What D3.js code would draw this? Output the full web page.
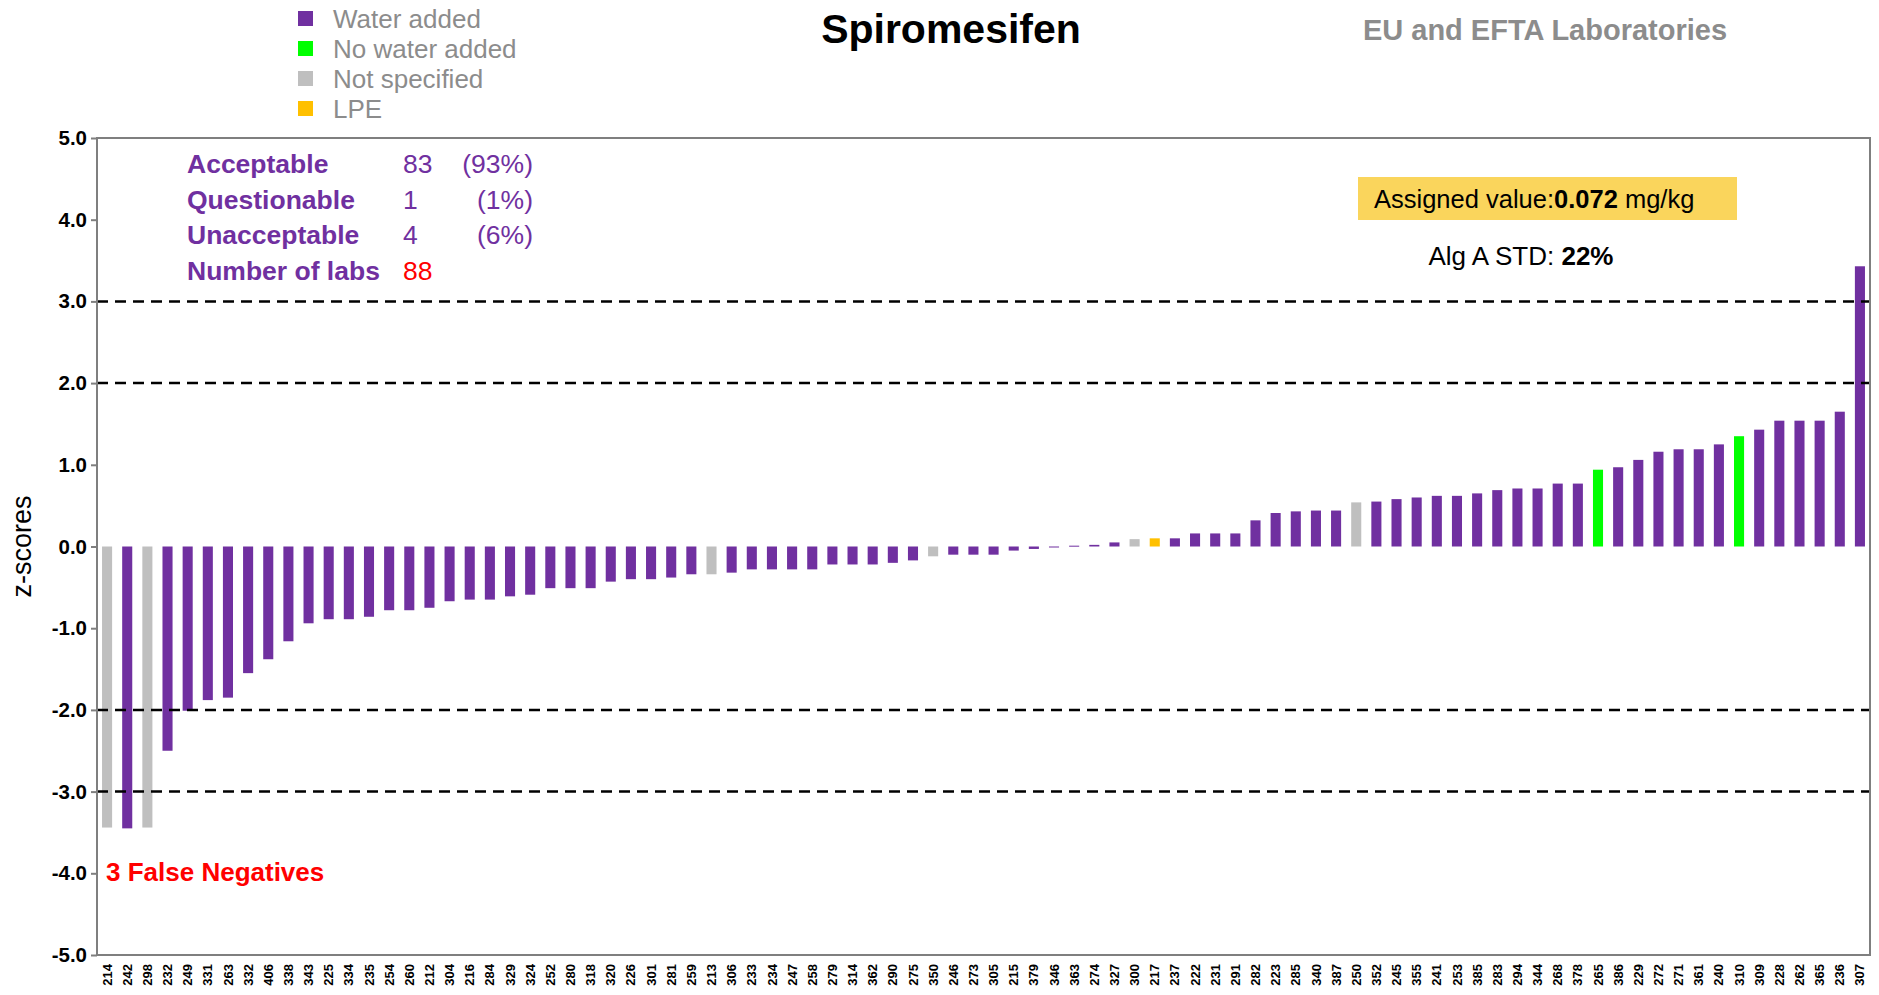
<!doctype html>
<html lang="en">
<head>
  <meta charset="utf-8" />
  <title>Spiromesifen z-scores</title>
  <script src="https://d3js.org/d3.v7.min.js"></script>
  <style>
    body { margin: 0; background: #fff; }
    text { font-family: "Liberation Sans", Arial, sans-serif; }
  </style>
</head>
<body>
<script type="text/javascript">

  // lab codes in plotted order
  var labs = ["214","242","298","232","249","331","263","332","406","338",
    "343","225","334","235","254","260","212","304","216","284",
    "329","324","252","280","318","320","226","301","281","259",
    "213","306","233","234","247","258","279","314","362","290",
    "275","350","246","273","305","215","379","346","363","274",
    "327","300","217","237","222","231","291","282","223","285",
    "340","387","250","352","245","355","241","253","385","283",
    "294","344","268","378","265","386","229","272","271","361",
    "240","310","309","228","262","365","236","307"];

  // z-scores
  var zScores = [-3.44,-3.45,-3.44,-2.50,-2.01,-1.88,-1.85,-1.55,-1.38,-1.16,
    -0.94,-0.89,-0.89,-0.86,-0.78,-0.78,-0.75,-0.67,-0.65,-0.65,
    -0.61,-0.59,-0.51,-0.51,-0.51,-0.43,-0.40,-0.40,-0.38,-0.34,
    -0.34,-0.32,-0.28,-0.28,-0.28,-0.28,-0.22,-0.22,-0.22,-0.20,
    -0.17,-0.12,-0.10,-0.10,-0.10,-0.05,-0.03,-0.01,0.01,0.02,
    0.05,0.09,0.10,0.10,0.16,0.16,0.16,0.32,0.41,0.43,
    0.44,0.44,0.54,0.55,0.58,0.60,0.62,0.62,0.65,0.69,
    0.71,0.71,0.77,0.77,0.94,0.97,1.06,1.16,1.19,1.19,
    1.25,1.35,1.43,1.54,1.54,1.54,1.65,3.43];

  // W = water added, N = no water added, U = not specified, L = LPE
  var groups = ["U","W","U","W","W","W","W","W","W","W",
    "W","W","W","W","W","W","W","W","W","W",
    "W","W","W","W","W","W","W","W","W","W",
    "U","W","W","W","W","W","W","W","W","W",
    "W","U","W","W","W","W","W","W","W","W",
    "W","U","L","W","W","W","W","W","W","W",
    "W","W","U","W","W","W","W","W","W","W",
    "W","W","W","W","N","W","W","W","W","W",
    "W","N","W","W","W","W","W","W"];

  var legendKeys = ["W","N","U","L"];
  var legendLabels = ["Water added","No water added","Not specified","LPE"];
  var yTicks = [-5,-4,-3,-2,-1,0,1,2,3,4,5];
  var limitLines = [-3,-2,2,3];

  var statLabels = ["Acceptable","Questionable","Unacceptable","Number of labs"];
  var statCounts = ["83","1","4","88"];
  var statPercents = ["(93%)","(1%)","(6%)",""];

  var colors = { W: "#7030A0", N: "#00FF00", U: "#BFBFBF", L: "#FFC000" };
  var purple = "#7030A0";

  var data = labs.map(function(d, i) {
    return { lab: d, z: zScores[i], g: groups[i] };
  });

  var W = 1879, H = 995;
  var margin = { top: 138, right: 9, bottom: 40, left: 97 };
  var width = W - margin.left - margin.right,
      height = H - margin.top - margin.bottom;

  var svg = d3.select("body").append("svg")
    .attr("width", W)
    .attr("height", H);

  var g = svg.append("g")
    .attr("transform", "translate(" + margin.left + "," + margin.top + ")");

  var x = d3.scaleBand()
    .domain(labs)
    .range([0, width])
    .paddingInner(0.5)
    .paddingOuter(0.25);

  var y = d3.scaleLinear()
    .domain([-5, 5])
    .range([height, 0]);

  // bars
  g.selectAll(".bar")
    .data(data)
    .enter().append("rect")
    .attr("class", "bar")
    .attr("x", function(d) { return x(d.lab); })
    .attr("width", x.bandwidth())
    .attr("y", function(d) { return y(Math.max(0, d.z)); })
    .attr("height", function(d) { return Math.max(1, Math.abs(y(d.z) - y(0))); })
    .attr("fill", function(d) { return colors[d.g]; });

  // dashed limit lines
  g.selectAll(".limit")
    .data(limitLines)
    .enter().append("line")
    .attr("class", "limit")
    .attr("x1", 0)
    .attr("x2", width)
    .attr("y1", function(d) { return y(d); })
    .attr("y2", function(d) { return y(d); })
    .attr("stroke", "#000")
    .attr("stroke-width", 2.5)
    .attr("stroke-dasharray", "11,7");

  // frame
  g.append("rect")
    .attr("x", 0).attr("y", 0)
    .attr("width", width).attr("height", height)
    .attr("fill", "none")
    .attr("stroke", "#7f7f7f")
    .attr("stroke-width", 2);

  var yAxis = d3.axisLeft(y)
    .tickValues(yTicks)
    .tickSize(6)
    .tickPadding(4)
    .tickFormat(function(d) { return d.toFixed(1); });

  var ya = g.append("g").attr("class", "y axis").call(yAxis);
  ya.select(".domain").remove();
  ya.selectAll("line").attr("stroke", "#7f7f7f").attr("stroke-width", 2);
  ya.selectAll("text")
    .attr("fill", "#000")
    .style("font-size", "20.5px")
    .style("font-weight", "bold");

  var xAxis = d3.axisBottom(x).tickSize(0);
  var xa = g.append("g")
    .attr("class", "x axis")
    .attr("transform", "translate(0," + height + ")")
    .call(xAxis);
  xa.select(".domain").remove();
  xa.selectAll("text")
    .attr("transform", "rotate(-90)")
    .attr("x", -9)
    .attr("y", 0)
    .attr("dy", "0.35em")
    .style("text-anchor", "end")
    .style("font-size", "13px")
    .style("font-weight", "bold")
    .attr("fill", "#000");

  // y label
  svg.append("text")
    .attr("transform", "translate(31," + (margin.top + y(0)) + ") rotate(-90)")
    .attr("text-anchor", "middle")
    .style("font-size", "27px")
    .text("z-scores");

  // titles
  svg.append("text")
    .attr("x", 951).attr("y", 43)
    .attr("text-anchor", "middle")
    .style("font-size", "41px")
    .style("font-weight", "bold")
    .text("Spiromesifen");

  svg.append("text")
    .attr("x", 1545).attr("y", 40)
    .attr("text-anchor", "middle")
    .style("font-size", "29px")
    .style("font-weight", "bold")
    .attr("fill", "#8c8c8c")
    .text("EU and EFTA Laboratories");

  // legend
  var legend = svg.append("g").attr("class", "legend");
  legendKeys.forEach(function(k, i) {
    var by = 28 + i * 30;
    legend.append("rect")
      .attr("x", 298).attr("y", by - 17)
      .attr("width", 15).attr("height", 15)
      .attr("fill", colors[k]);
    legend.append("text")
      .attr("x", 333).attr("y", by)
      .attr("fill", "#8c8c8c")
      .style("font-size", "26px")
      .text(legendLabels[i]);
  });

  // counts block
  statLabels.forEach(function(s, i) {
    var by = 173 + i * 35.7;
    svg.append("text")
      .attr("x", 187).attr("y", by)
      .attr("fill", purple)
      .style("font-size", "26.5px")
      .style("font-weight", "bold")
      .text(s);
    svg.append("text")
      .attr("x", 403).attr("y", by)
      .attr("fill", i == 3 ? "#FF0000" : purple)
      .style("font-size", "26.5px")
      .text(statCounts[i]);
    svg.append("text")
      .attr("x", 533).attr("y", by)
      .attr("text-anchor", "end")
      .attr("fill", purple)
      .style("font-size", "26.5px")
      .text(statPercents[i]);
  });

  svg.append("text")
    .attr("x", 106).attr("y", 881)
    .attr("fill", "#FF0000")
    .style("font-size", "26px")
    .style("font-weight", "bold")
    .text("3 False Negatives");

  // assigned value box
  svg.append("rect")
    .attr("x", 1358).attr("y", 177)
    .attr("width", 379).attr("height", 43)
    .attr("fill", "#FAD55C");

  var av = svg.append("text")
    .attr("x", 1374).attr("y", 208)
    .style("font-size", "25.5px");
  av.append("tspan").text("Assigned value:");
  av.append("tspan").style("font-weight", "bold").text("0.072");
  av.append("tspan").text(" mg/kg");

  var st = svg.append("text")
    .attr("x", 1521).attr("y", 265)
    .attr("text-anchor", "middle")
    .style("font-size", "26px");
  st.append("tspan").text("Alg A STD: ");
  st.append("tspan").style("font-weight", "bold").text("22%");

</script>
</body>
</html>
